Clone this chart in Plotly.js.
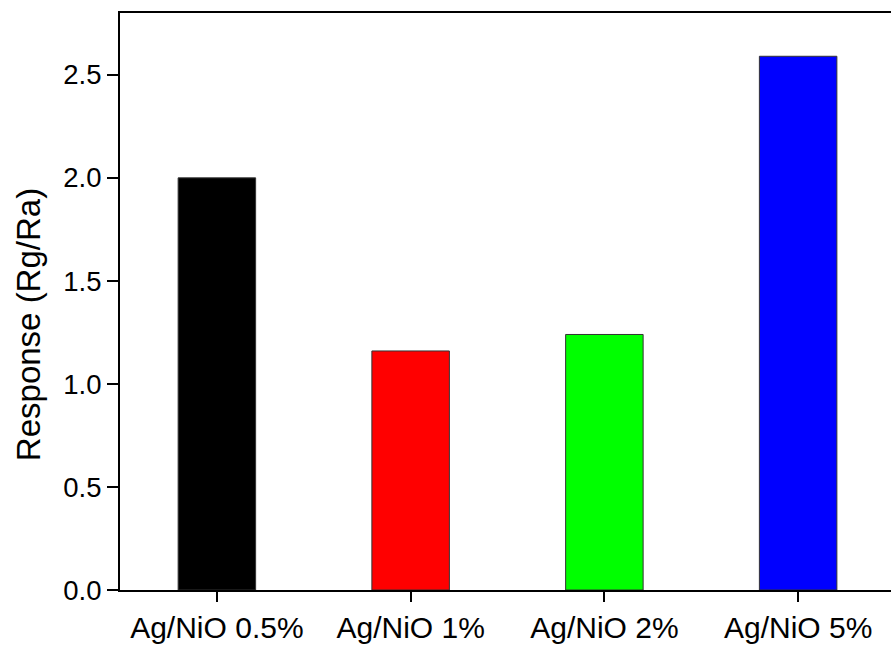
<!DOCTYPE html>
<html>
<head>
<meta charset="utf-8">
<script src="https://cdn.plot.ly/plotly-3.0.1.min.js"></script>
<style>
html, body { margin: 0; padding: 0; overflow: hidden; background: #fff; }
#chart { width: 895px; height: 646px; }
</style>
</head>
<body>
<div id="chart"></div>
<script>
const categories = ["Ag/NiO 0.5%", "Ag/NiO 1%", "Ag/NiO 2%", "Ag/NiO 5%"];
const responses = [2.0, 1.16, 1.24, 2.59];
const barColors = ["#000000", "#ff0000", "#00ff00", "#0000ff"];
const yTickVals = [0, 0.5, 1.0, 1.5, 2.0, 2.5];
const yTickText = ["0.0", "0.5", "1.0", "1.5", "2.0", "2.5"];

const trace = {
  type: "bar",
  x: categories,
  y: responses,
  width: 0.4,
  marker: { color: barColors, line: { color: "#333333", width: 1 } },
  hoverinfo: "skip"
};

const layout = {
  width: 895,
  height: 646,
  margin: { l: 120, r: 0, t: 13, b: 56 },
  paper_bgcolor: "#ffffff",
  plot_bgcolor: "#ffffff",
  showlegend: false,
  font: { family: "Liberation Sans, Arial, sans-serif", color: "#000" },
  xaxis: {
    type: "category",
    range: [-0.5, 3.5],
    showline: true, linecolor: "#000", linewidth: 2, mirror: true,
    ticks: "outside", ticklen: 10, tickwidth: 2, tickcolor: "#000",
    showgrid: false, zeroline: false,
    tickfont: { size: 30, color: "#000" },
    ticklabelstandoff: 0,
    automargin: false
  },
  yaxis: {
    range: [0, 2.8],
    tickvals: yTickVals, ticktext: yTickText,
    showline: true, linecolor: "#000", linewidth: 2, mirror: true,
    ticks: "outside", ticklen: 11, tickwidth: 2, tickcolor: "#000",
    showgrid: false, zeroline: false,
    tickfont: { size: 27.5, color: "#000" },
    automargin: false
  },
  annotations: [{
    text: "Response (Rg/Ra)",
    textangle: -90,
    xref: "paper", yref: "paper",
    x: -0.118, y: 0.46,
    xanchor: "center", yanchor: "middle",
    showarrow: false,
    font: { size: 33, color: "#000", family: "Liberation Sans, Arial, sans-serif" }
  }]
};

Plotly.newPlot("chart", [trace], layout, { displayModeBar: false, staticPlot: true });
</script>
</body>
</html>
